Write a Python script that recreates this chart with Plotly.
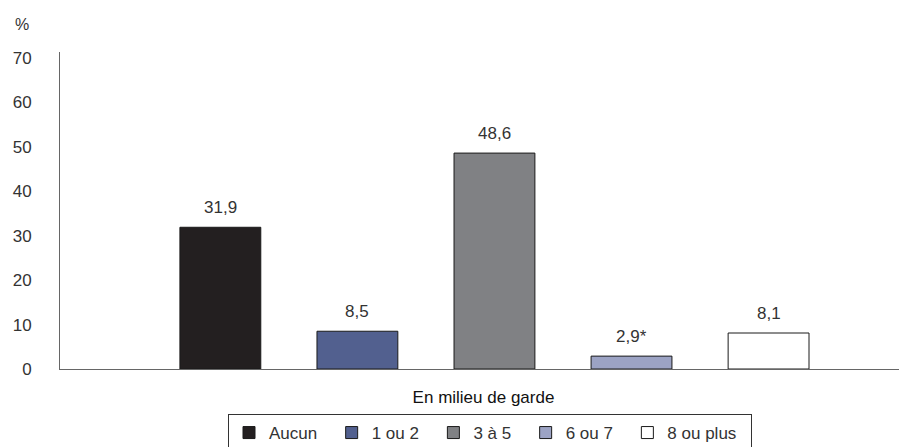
import plotly.graph_objects as go

group_label = "En milieu de garde"
series_names = ["Aucun", "1 ou 2", "3 à 5", "6 ou 7", "8 ou plus"]
series_values = [31.9, 8.5, 48.6, 2.9, 8.1]
value_labels = ["31,9", "8,5", "48,6", "2,9*", "8,1"]
colors = ["#231f20", "#52608f", "#808184", "#9ca3c4", "#ffffff"]
y_ticks = [0, 10, 20, 30, 40, 50, 60, 70]

FONT = "Liberation Sans, Arial, sans-serif"
TXT = "#333333"
FS = 17
PAD = "\u00a0\u00a0"

# The page body has an 8px default margin; the figure is sized to fit the window.
W, H = 899, 439
L, R, T, B = 52, 0, 44, 78
PW, PH = W - L - R, H - T - B

fig = go.Figure()
for name, val, col in zip(series_names, series_values, colors):
    fig.add_trace(go.Bar(
        x=[name], y=[val], name=name + PAD, width=0.59,
        marker=dict(color=col, line=dict(color="#1a1a1a", width=1)),
        hoverinfo="name+y",
    ))

annotations = [
    dict(x=name, y=val, xref="x", yref="y", text=lab, showarrow=False,
         yanchor="bottom", yshift=8, font=dict(family=FONT, size=FS, color=TXT))
    for name, val, lab in zip(series_names, series_values, value_labels)
]
annotations.append(dict(text="%", x=-38 / PW, y=1 + 28 / PH, xref="paper", yref="paper",
                        xanchor="center", yanchor="middle", showarrow=False,
                        font=dict(family=FONT, size=FS - 1, color=TXT)))

fig.update_layout(
    width=W, height=H,
    margin=dict(l=L, r=R, t=T, b=B, autoexpand=False),
    paper_bgcolor="white", plot_bgcolor="white",
    barmode="overlay",
    font=dict(family=FONT, size=FS, color=TXT),
    showlegend=True,
    legend=dict(orientation="h", x=482 / W, xanchor="center", xref="container",
                y=(H - 406) / H, yanchor="top", yref="container",
                bordercolor="#333333", borderwidth=1,
                font=dict(family=FONT, size=FS, color=TXT),
                itemwidth=30, traceorder="normal", itemclick=False, itemdoubleclick=False),
    xaxis=dict(type="category", categoryorder="array", categoryarray=series_names,
               range=[-1.17, 5.01], showline=True, automargin=False,
               linecolor="#666666", linewidth=1, ticks="", showgrid=False,
               showticklabels=False,
               title=dict(text=group_label, standoff=22,
                          font=dict(family=FONT, size=FS, color="#111111"))),
    yaxis=dict(range=[0, 71.35], tickvals=y_ticks, showline=True, automargin=False,
               linecolor="#666666", linewidth=1, showgrid=False,
               zeroline=False, ticks="", ticklabelstandoff=24,
               tickfont=dict(family=FONT, size=FS, color=TXT)),
    annotations=annotations,
)
fig.write_html("out.html")
